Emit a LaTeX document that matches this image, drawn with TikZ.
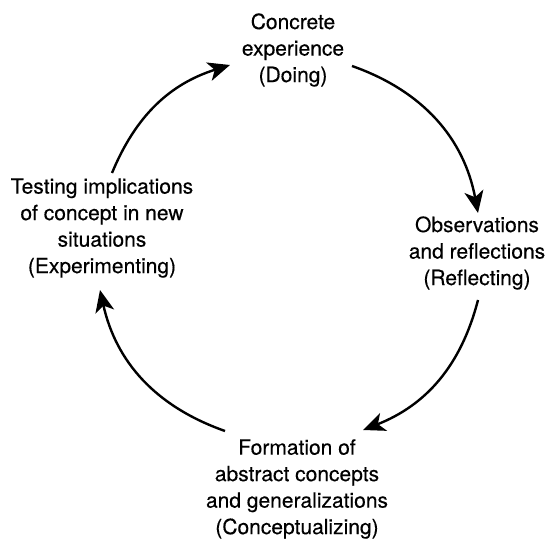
\documentclass[tikz,border=0pt]{standalone}
\usepackage{fontspec}
\setmainfont[BoldFont=TeX Gyre Heros,BoldFeatures={FakeBold=0.3}]{TeX Gyre Heros}
\usetikzlibrary{arrows.meta}

\begin{document}
\begin{tikzpicture}[
    x=1pt,y=1pt,
    >={Stealth[length=22pt,width=19pt,inset=6pt]},
    stage/.style={align=center,inner sep=0pt,
        font={\fontsize{21}{26.5}\selectfont\bfseries}},
    cycle/.style={->,line width=2.4pt},
    ]

    \useasboundingbox (0,0) rectangle (556,538);

    % stages
    \node[stage] (doing) at (293,488) {Concrete\\experience\\(Doing)};
    \node[stage] (reflecting) at (477,285) {Observations\\and reflections\\(Reflecting)};
    \node[stage] (conceptualizing) at (297,49) {Formation of\\abstract concepts\\and generalizations\\(Conceptualizing)};
    \node[stage] (experimenting) at (102,310) {Testing implications\\of concept in new\\situations\\(Experimenting)};

    % arc ends
    \coordinate (doing-out) at (352,472);
    \coordinate (reflecting-in) at (478,325);
    \coordinate (reflecting-out) at (478,238);
    \coordinate (conceptualizing-in) at (363,108);
    \coordinate (conceptualizing-out) at (225,107);
    \coordinate (experimenting-in) at (100,248);
    \coordinate (experimenting-out) at (112,365);
    \coordinate (doing-in) at (230,473);

    % cycle
    \draw[cycle] (doing-out) to[bend left=30] (reflecting-in);
    \draw[cycle] (reflecting-out) to[bend left=27] (conceptualizing-in);
    \draw[cycle] (conceptualizing-out) to[bend left=29] (experimenting-in);
    \draw[cycle] (experimenting-out) to[bend left=25] (doing-in);

\end{tikzpicture}
\end{document}
